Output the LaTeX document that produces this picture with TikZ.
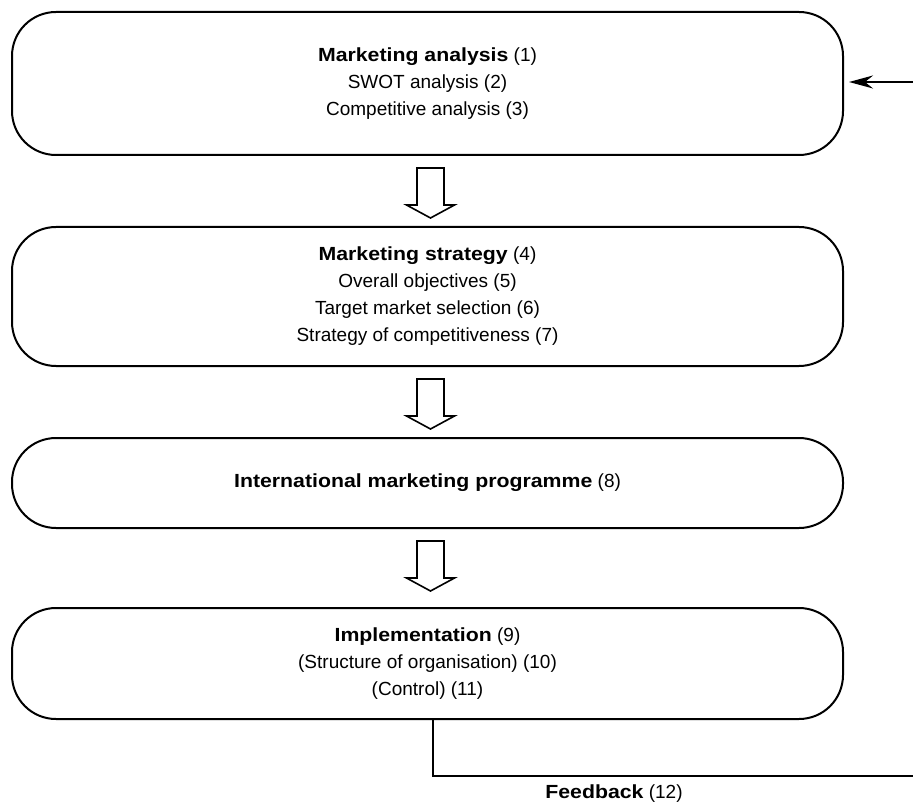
\documentclass[tikz,border=0pt]{standalone}
\usepackage{fontspec}
\setmainfont[BoldFeatures={FakeStretch=1.12}]{Liberation Sans}
\usetikzlibrary{positioning}
\usetikzlibrary{arrows.meta}

\begin{document}
\begin{tikzpicture}[x=0.5pt,y=-0.5pt,node distance=35pt,font=\fontsize{9.5}{13.5}\selectfont]
	\tikzstyle{stage} = [rectangle, draw, line width=1pt, rounded corners=22pt, minimum width=415.5pt, align=center]
	\tikzstyle{fatarrow} = [draw, line width=0.8pt, fill=white]
	\useasboundingbox (0,0) rectangle (913,806);
	\node [stage, minimum height=71.5pt](analysis) at (427.5,83.5) {\textbf{Marketing analysis} (1)\\SWOT analysis (2)\\Competitive analysis (3)};
	\node [stage, minimum height=69.5pt, below=of analysis](strategy) {\textbf{Marketing strategy} (4)\\Overall objectives (5)\\Target market selection (6)\\Strategy of competitiveness (7)};
	\node [stage, minimum height=45pt, below=of strategy](programme) {\textbf{International marketing programme} (8)};
	\node [stage, minimum height=55.5pt, below=39pt of programme](implementation) {\textbf{Implementation} (9)\\(Structure of organisation) (10)\\(Control) (11)};
	\foreach \from in {analysis,strategy,programme}
		\draw [fatarrow, shift={(\from.south)}] (-10.5,12) -- (-10.5,49) -- (-21,49) -- (3,62) -- (27,49) -- (16.5,49) -- (16.5,12) -- cycle;
	\coordinate (loop_end) at (913,776);
	\coordinate (loop_start) at (913,82);
	\draw [line width=0.8pt] ([xshift=2.75pt]implementation.south) |- (loop_end);
	\draw [-{Stealth[length=12pt,width=6.5pt,inset=4pt]}, line width=0.9pt, shorten >=2.5pt] (loop_start) -- (analysis.east |- loop_start);
	\node (feedback) at (614,794) {\textbf{Feedback} (12)};
\end{tikzpicture}
\end{document}
